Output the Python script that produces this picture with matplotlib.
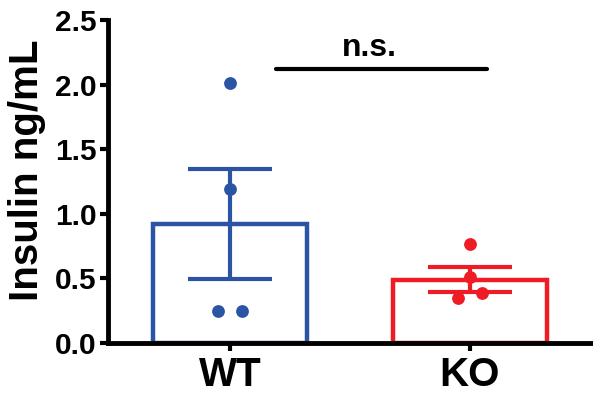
import matplotlib
matplotlib.use("Agg")
import matplotlib.pyplot as plt
import numpy as np

plt.rcParams['font.family'] = ['Liberation Sans', 'DejaVu Sans']
plt.rcParams['font.weight'] = 'bold'

groups = ["WT", "KO"]
means = [0.92, 0.49]
sems = [0.425, 0.097]
wt_points = [2.01, 1.19, 0.25, 0.25]
ko_points = [0.77, 0.51, 0.35, 0.39]
point_offsets = [[0.0, 0.0, -0.05, 0.05], [0.0, 0.0, -0.05, 0.05]]
colors = ["#2a55a5", "#ee1c25"]
yticks = [0.0, 0.5, 1.0, 1.5, 2.0, 2.5]
sig_label = "n.s."

fig = plt.figure(figsize=(5.93, 4.01), dpi=100)
ax = fig.add_axes([108/593, 1-343/401, 1-108/593, (343-20)/401])

x = np.arange(len(groups))
for i, (m, s, c) in enumerate(zip(means, sems, colors)):
    ax.bar(x[i], m, width=0.64, facecolor='white', edgecolor=c, linewidth=3.2, zorder=2)
    ax.errorbar(x[i], m, yerr=s, color=c, capsize=30, capthick=3, elinewidth=3, zorder=3, fmt='none')

for i, pts in enumerate([wt_points, ko_points]):
    ax.scatter(x[i] + np.array(point_offsets[i]), pts, s=85, color=colors[i], zorder=4, linewidths=0)

# significance
ax.plot([0.19, 1.07], [2.12, 2.12], color='black', lw=3, solid_capstyle='round', zorder=5)
ax.text(0.58, 2.165, sig_label, ha='center', va='bottom', fontsize=23, fontweight='bold')

ax.set_xlim(-0.508, 1.513)
ax.set_ylim(0, 2.5)
ax.set_yticks(yticks)
ax.set_yticklabels([f"{t:.1f}" for t in yticks])
ax.set_xticks(x)
ax.set_xticklabels(groups)
ax.tick_params(axis='y', labelsize=21.5, width=3, length=6, pad=2)
ax.tick_params(axis='x', labelsize=29, width=3, length=6, pad=3)
for lbl in ax.get_xticklabels() + ax.get_yticklabels():
    lbl.set_fontweight('bold')
ax.set_ylabel("Insulin ng/mL", fontsize=29, fontweight='bold')
ax.yaxis.set_label_coords(-0.128, 0.536)

for sp in ['top', 'right']:
    ax.spines[sp].set_visible(False)
for sp in ['left', 'bottom']:
    ax.spines[sp].set_linewidth(3.5)

fig.savefig("out.png", dpi=100)
